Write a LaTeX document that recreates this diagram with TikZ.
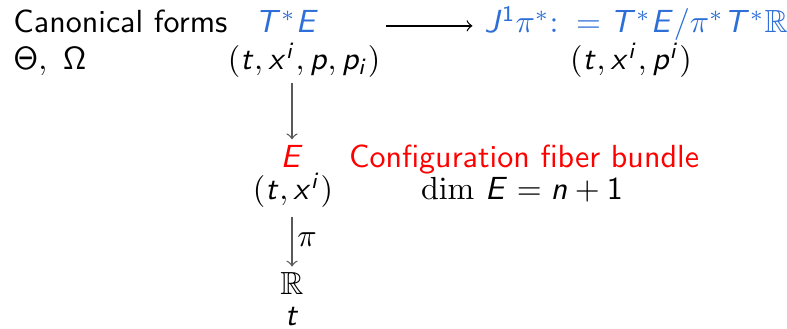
\documentclass[tikz,border=0pt]{standalone}
\usepackage{amsmath,amssymb}
\usepackage{xcolor}
\usepackage{tikz}
\usetikzlibrary{calc}
\renewcommand{\familydefault}{\sfdefault}
% sans italic letters in math, as in slides
\DeclareSymbolFont{sfit}{OT1}{cmss}{m}{sl}
\DeclareSymbolFont{sfup}{OT1}{cmss}{m}{n}
\DeclareMathSymbol{t}{\mathalpha}{sfit}{`t}
\DeclareMathSymbol{x}{\mathalpha}{sfit}{`x}
\DeclareMathSymbol{i}{\mathalpha}{sfit}{`i}
\DeclareMathSymbol{p}{\mathalpha}{sfit}{`p}
\DeclareMathSymbol{n}{\mathalpha}{sfit}{`n}
\DeclareMathSymbol{T}{\mathalpha}{sfit}{`T}
\DeclareMathSymbol{E}{\mathalpha}{sfit}{`E}
\DeclareMathSymbol{J}{\mathalpha}{sfit}{`J}
\DeclareMathSymbol{1}{\mathalpha}{sfup}{`1}
\DeclareMathSymbol{\Theta}{\mathalpha}{sfup}{"02}
\DeclareMathSymbol{\Omega}{\mathalpha}{sfup}{"0A}
\definecolor{fbblue}{RGB}{45,110,215}
\definecolor{fbred}{RGB}{255,0,0}

\begin{document}
\begin{tikzpicture}[every node/.style={inner sep=1.5pt},
  vert/.style={->, black!65}]
\useasboundingbox (0,0) rectangle (8.643,3.613);
% left column: canonical forms
\node[anchor=base west] (canon) at (0.088,3.251) {Canonical forms};
\node[anchor=base west] (forms) at (0.088,2.845) {$\Theta,\ \Omega$};
% cotangent bundle and the jet quotient
\node[anchor=base, fbblue] (TE) at (3.152,3.251) {$T^*E$};
\node[anchor=base] (TEc) at (3.339,2.845) {$(t,x^i,p,p_i)$};
\node[anchor=base, fbblue] (J1) at (6.985,3.251) {$J^1\pi^*{:}\;= T^*E/\pi^*T^*\mathbb{R}$};
\node[anchor=base] (J1c) at (6.930,2.845) {$(t,x^i,p^i)$};
% configuration bundle
\node[anchor=base, fbred] (E) at (3.207,1.779) {$E$};
\node[anchor=base] (Ec) at (3.218,1.417) {$(t,x^i)$};
\node[anchor=base, fbred] (conf) at (5.755,1.779) {Configuration fiber bundle};
\node[anchor=base] (dimE) at (5.733,1.417) {$\dim\, E = n+1$};
% base
\node[anchor=base] (R) at (3.207,0.384) {$\mathbb{R}$};
\node[anchor=base] (tb) at (3.207,0.033) {$t$};
% arrows
\draw[->, shorten >=2pt] (TEc.east |- TE.mid) -- (J1.west |- TE.mid);
\draw[vert] (E.north |- TEc.south) -- (E.north);
\draw[vert, shorten <=1pt] (R.north |- Ec.south) -- node[right, black] {$\pi$} (R.north);
\end{tikzpicture}
\end{document}
